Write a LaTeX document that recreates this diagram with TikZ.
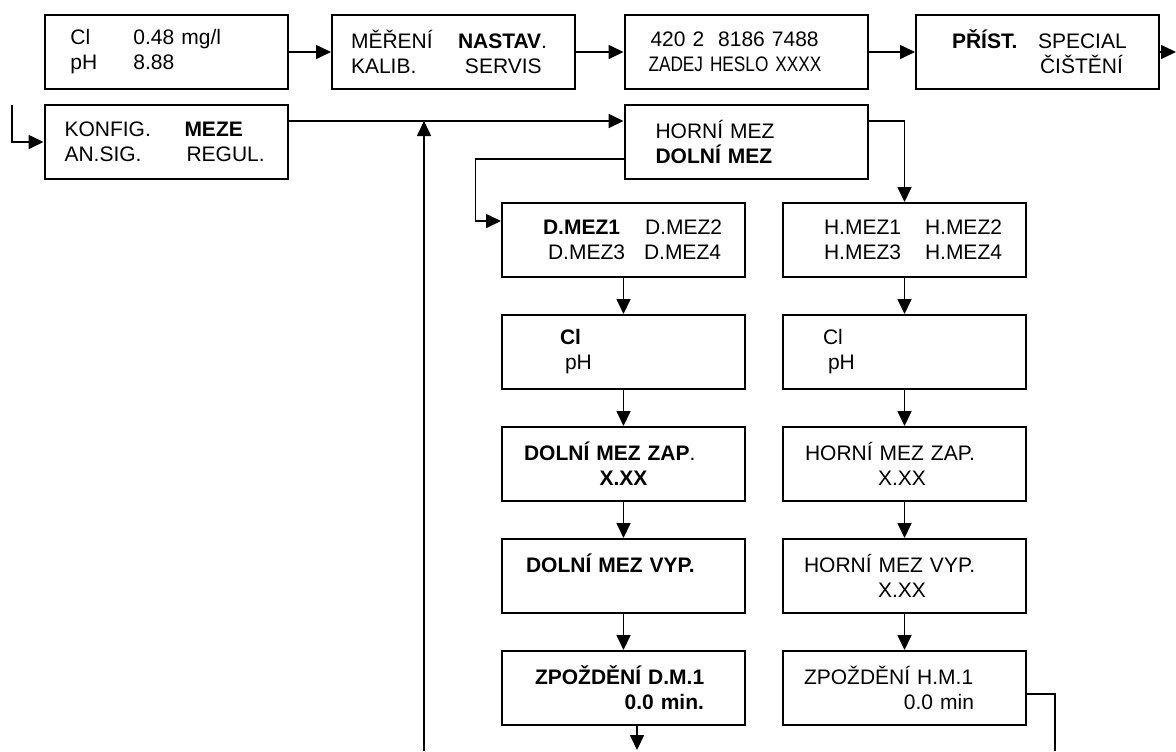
\documentclass[tikz,border=0pt]{standalone}
\usepackage{fontspec}
\setmainfont{Liberation Sans}
\newfontfamily\narrowfont[FakeStretch=0.82]{Liberation Sans}
\usepackage{tikz}
\usetikzlibrary{arrows.meta, positioning, calc}

% text placed at a fixed offset from the left edge of a menu box
\newcommand{\lcdat}[3][l]{\makebox[0pt][l]{\hspace*{#2}\makebox[0pt][#1]{#3}}}

\tikzset{
  menubox/.style={draw, line width=1pt, minimum width=121.5pt, minimum height=37pt,
    text width=121.5pt, align=left, inner sep=0pt, font=\fontsize{10.5}{12.5}\selectfont},
  flow/.style={line width=0.85pt, -{Triangle[length=7.5pt, width=7pt]}},
  link/.style={line width=0.85pt}
}

\begin{document}
\begin{tikzpicture}[x=0.5pt, y=-0.5pt]
    \useasboundingbox (0,0) rectangle (1176,751);

    % top row
    \node[menubox] (disp) at (166,52) {\lcdat{13pt}{Cl}\lcdat{44.5pt}{0.48 mg/l}\\ \lcdat{13pt}{pH}\lcdat{44.5pt}{8.88}};
    \node[menubox] (menu) at (453.5,52) {\lcdat{9.5pt}{MĚŘENÍ}\lcdat{63pt}{\textbf{NASTAV}.}\\ \lcdat{9.5pt}{KALIB.}\lcdat{66.5pt}{SERVIS}};
    \node[menubox] (heslo) at (746,52) {\lcdat{13pt}{420 2\ \ 8186 7488}\\ \lcdat{12pt}{\narrowfont ZADEJ HESLO XXXX}};
    \node[menubox] (nastav) at (1037.5,52) {\lcdat{18pt}{\textbf{PŘÍST.}}\lcdat{61pt}{SPECIAL}\\ \lcdat{62pt}{ČIŠTĚNÍ}};

    % second row
    \node[menubox] (pristroj) at (166,142) {\lcdat{10pt}{KONFIG.}\lcdat{70pt}{\textbf{MEZE}}\\ \lcdat{10pt}{AN.SIG.}\lcdat{71pt}{REGUL.}};
    \node[menubox] (meze) at (746,142) {\lcdat{15.5pt}{HORNÍ MEZ}\\ \lcdat{15.5pt}{\textbf{DOLNÍ MEZ}}};

    % lower limits
    \node[menubox] (dvyber) at (623.5,240) {\lcdat{20.5pt}{\textbf{D.MEZ1}}\lcdat{71.5pt}{D.MEZ2}\\ \lcdat{23pt}{D.MEZ3}\lcdat{71pt}{D.MEZ4}};
    \node[menubox] (dveli) at (623.5,352) {\lcdat{29pt}{\textbf{Cl}}\\ \lcdat{31.5pt}{pH}};
    \node[menubox] (dzap) at (623.5,464) {\lcdat{11pt}{\textbf{DOLNÍ MEZ ZAP}.}\\ \lcdat[c]{60.75pt}{\textbf{X.XX}}};
    \node[menubox] (dvyp) at (623.5,576) {\lcdat{12pt}{\textbf{DOLNÍ MEZ VYP.}}\\ \mbox{}};
    \node[menubox] (dzpoz) at (623.5,688) {\lcdat{16.5pt}{\textbf{ZPOŽDĚNÍ D.M.1}}\\ \lcdat[r]{101pt}{\textbf{0.0 min.}}};

    % upper limits
    \node[menubox] (hvyber) at (904.5,240) {\lcdat{20.5pt}{H.MEZ1}\lcdat{71pt}{H.MEZ2}\\ \lcdat{20.5pt}{H.MEZ3}\lcdat{71pt}{H.MEZ4}};
    \node[menubox] (hveli) at (904.5,352) {\lcdat{20pt}{Cl}\\ \lcdat{22.5pt}{pH}};
    \node[menubox] (hzap) at (904.5,464) {\lcdat{11pt}{HORNÍ MEZ ZAP.}\\ \lcdat[c]{59.5pt}{X.XX}};
    \node[menubox] (hvyp) at (904.5,576) {\lcdat{10.5pt}{HORNÍ MEZ VYP.}\\ \lcdat[c]{59.5pt}{X.XX}};
    \node[menubox] (hzpoz) at (904.5,688) {\lcdat{10.5pt}{ZPOŽDĚNÍ H.M.1}\\ \lcdat[r]{95.5pt}{0.0 min}};

    % connectors
    \draw[flow] (disp) -- (menu);
    \draw[flow] (menu) -- (heslo);
    \draw[flow] (heslo) -- (nastav);
    \coordinate (dal) at (1176,52);
    \draw[flow] (nastav) -- (dal);

    \coordinate (zpet) at (12,105);
    \draw[flow] (zpet) |- (pristroj);
    \coordinate (odbocka) at ($(pristroj.north east)+(0,17)$);
    \draw[flow] (odbocka) -- (odbocka -| meze.west);
    \coordinate (navrat) at (424,751);
    \draw[flow] (navrat) -- (navrat |- odbocka);

    \draw[flow] ($(meze.north east)+(0,17)$) -| (hvyber);
    \draw[flow] ($(meze.south west)+(0,-21)$) -- ++(-148,0) |- ($(dvyber.north west)+(0,19)$);

    \foreach \a/\b in {dvyber/dveli, dveli/dzap, dzap/dvyp, dvyp/dzpoz,
                       hvyber/hveli, hveli/hzap, hzap/hvyp, hvyp/hzpoz}
      \draw[flow] (\a) -- (\b);

    \coordinate (dkonec) at (637,750);
    \draw[flow] (dkonec |- dzpoz.south) -- (dkonec);
    \coordinate (hkonec) at (1055,751);
    \draw[link] ($(hzpoz.east)+(0,6)$) -| (hkonec);
\end{tikzpicture}
\end{document}
